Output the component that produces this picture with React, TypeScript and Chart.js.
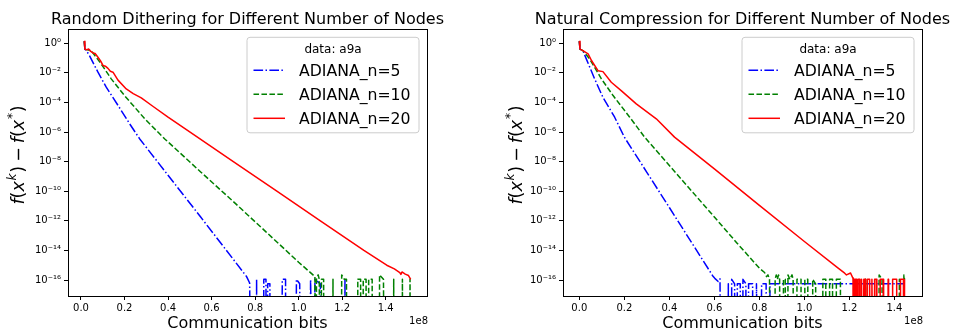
import React, { useEffect, useRef } from 'react';
import { Chart, registerables } from 'chart.js';

Chart.register(...registerables);

// ---------------- data (x in units of 1e8 bits) ----------------
// Random Dithering
const rdX5 = [0.015, 0.018, 0.035, 0.078, 0.116, 0.17, 0.224, 0.27, 0.40, 0.55, 0.70, 0.761, 0.775,
  0.785, 0.805, 0.807, 0.809, 0.838, 0.840, 0.850, 0.852, 0.858, 0.868, 0.870, 0.920, 0.925, 0.940, 0.942,
  0.985, 0.990, 1.005, 1.010, 1.050, 1.055, 1.070, 1.075, 1.100, 1.102, 1.210, 1.213, 1.216];
const rdY5 = [1.38, 0.40, 0.19, 1.1e-2, 1.07e-3, 6.3e-5, 3.5e-6, 3.4e-7, 1.2e-9, 1.8e-12, 2.5e-15, 1.7e-16, 6.3e-17,
  0, 0, 1.11e-16, 0, 0, 1.11e-16, 1.11e-16, 0, 5.55e-17, 5.55e-17, 0, 0, 1.11e-16, 1.11e-16, 0,
  0, 1.11e-16, 5.55e-17, 0, 0, 1.11e-16, 0, 1.11e-16, 5.55e-17, 0, 0, 1.11e-16, 0];

const rdX10 = [0.015, 0.018, 0.03, 0.047, 0.07, 0.093, 0.139, 0.2, 0.293, 0.385, 0.55, 0.70, 0.85, 1.0, 1.075,
  1.080, 1.082, 1.090, 1.095, 1.100, 1.105, 1.115, 1.117, 1.155, 1.158, 1.160, 1.195, 1.198, 1.210, 1.220, 1.222,
  1.270, 1.272, 1.285, 1.287, 1.295, 1.297, 1.310, 1.312, 1.320, 1.322, 1.338, 1.340, 1.370, 1.372, 1.390, 1.395,
  1.435, 1.437, 1.440, 1.475, 1.477, 1.480, 1.510, 1.512, 1.515];
const rdY10 = [1.38, 0.40, 0.355, 0.316, 0.112, 0.04, 3.9e-3, 2.9e-4, 7.8e-6, 3.4e-7, 2.0e-9, 2.0e-11, 1.8e-13, 1.6e-15, 1.7e-16,
  0, 1.11e-16, 2.22e-16, 1.11e-16, 0, 1.11e-16, 1.11e-16, 0, 0, 1.11e-16, 0, 0, 2.22e-16, 1.11e-16, 1.11e-16, 0,
  0, 1.11e-16, 1.11e-16, 0, 0, 1.11e-16, 1.11e-16, 0, 0, 1.11e-16, 1.11e-16, 0, 0, 2.22e-16, 1.11e-16, 0,
  0, 1.11e-16, 0, 0, 1.11e-16, 0, 0, 1.11e-16, 0];

const rdX20 = [0.015, 0.018, 0.025, 0.035, 0.045, 0.055, 0.065, 0.078, 0.09, 0.101, 0.112, 0.124, 0.135, 0.147,
  0.17, 0.208, 0.24, 0.277, 0.33, 0.40, 0.53, 0.70, 0.90, 1.10, 1.30, 1.405, 1.44, 1.465, 1.47, 1.475, 1.49, 1.505, 1.515];
const rdY20 = [1.38, 0.40, 0.355, 0.41, 0.28, 0.22, 0.20, 0.112, 0.063, 0.0316, 0.028, 0.02, 0.0126, 0.011,
  3.2e-3, 8.1e-4, 3.9e-4, 2.0e-4, 5.5e-5, 1.0e-5, 5.0e-7, 1.0e-8, 1.0e-10, 1.0e-12, 1.0e-14, 1.0e-15, 5.6e-16, 3.2e-16, 2.4e-16, 3.5e-16, 2.5e-16, 2.0e-16, 1.1e-16];

// Natural Compression
const ncX5 = [0.0, 0.003, 0.016, 0.031, 0.068, 0.105, 0.157, 0.2, 0.3, 0.4, 0.5, 0.595, 0.602, 0.617, 0.625, 0.632,
  0.660, 0.662, 0.665, 0.675, 0.677, 0.690, 0.692, 0.700, 0.702, 0.715, 0.717, 0.725, 0.727, 0.740, 0.742,
  0.750, 0.752, 0.770, 0.772, 0.785, 0.787, 0.800, 0.810, 0.830, 0.832, 0.845, 0.847, 0.860, 1.445];
const ncY5 = [1.38, 0.40, 0.316, 8.7e-2, 3.9e-3, 2.2e-4, 1.0e-5, 4.5e-7, 1.9e-9, 7.9e-12, 3.2e-14, 1.7e-16, 1.3e-16, 8.0e-17, 1.2e-16, 0,
  0, 5.55e-17, 0, 0, 1.11e-16, 5.55e-17, 0, 0, 5.55e-17, 5.55e-17, 0, 0, 1.11e-16, 5.55e-17, 0,
  0, 5.55e-17, 5.55e-17, 0, 0, 5.55e-17, 0, 5.55e-17, 5.55e-17, 0, 0, 5.55e-17, 5.55e-17, 5.55e-17];

const ncX10 = [0.0, 0.003, 0.016, 0.046, 0.098, 0.15, 0.224, 0.29, 0.4, 0.5, 0.6, 0.7, 0.8, 0.823, 0.832, 0.838, 0.845,
  0.850, 0.868, 0.870, 0.875, 0.880, 0.885, 0.890, 0.892, 0.905, 0.907, 0.915, 0.917, 0.925, 0.927, 0.935, 0.945, 0.950, 0.952,
  0.965, 0.967, 0.985, 0.987, 1.000, 1.002, 1.015, 1.017, 1.035, 1.037, 1.050, 1.052, 1.080, 1.082, 1.095, 1.097,
  1.110, 1.112, 1.125, 1.127, 1.140, 1.142, 1.160, 1.162, 1.270, 1.272, 1.280, 1.330, 1.332, 1.345, 1.347,
  1.420, 1.422, 1.425, 1.440, 1.442, 1.445];
const ncY10 = [1.38, 0.40, 0.316, 8.7e-2, 3.9e-3, 2.9e-4, 1.0e-5, 4.5e-7, 5.5e-9, 1.0e-10, 1.8e-12, 3.2e-14, 6.3e-16, 3.2e-16, 1.7e-16, 2.22e-16, 1.11e-16,
  0, 0, 1.11e-16, 2.22e-16, 1.11e-16, 2.22e-16, 1.11e-16, 0, 0, 1.11e-16, 1.11e-16, 0, 0, 2.22e-16, 1.11e-16, 2.22e-16, 1.11e-16, 0,
  0, 1.11e-16, 1.11e-16, 0, 0, 1.11e-16, 1.11e-16, 0, 0, 1.11e-16, 5.55e-17, 0, 0, 1.11e-16, 1.11e-16, 0,
  0, 1.11e-16, 1.11e-16, 0, 0, 1.11e-16, 1.11e-16, 0, 0, 1.11e-16, 0, 0, 2.22e-16, 1.11e-16, 0,
  0, 1.11e-16, 0, 0, 2.22e-16, 1.11e-16];

const ncX20 = [0.0, 0.003, 0.016, 0.039, 0.054, 0.083, 0.105, 0.142, 0.186, 0.253, 0.342, 0.423, 0.6, 0.8, 1.0, 1.15, 1.179, 1.187, 1.205, 1.216,
  1.218, 1.222, 1.224, 1.230, 1.232, 1.236, 1.238, 1.245, 1.247, 1.252, 1.254, 1.260, 1.264, 1.270, 1.272,
  1.278, 1.280, 1.290, 1.292, 1.298, 1.300, 1.308, 1.312, 1.320, 1.322, 1.335, 1.337, 1.350, 1.352,
  1.370, 1.372, 1.374, 1.390, 1.392, 1.410, 1.412, 1.425, 1.427, 1.440, 1.442, 1.445];
const ncY20 = [1.38, 0.40, 0.316, 0.19, 6.8e-2, 1.4e-2, 1.2e-2, 2.3e-3, 6.3e-4, 7.9e-5, 7.8e-6, 4.5e-7, 3.2e-9, 1.1e-11, 4.0e-14, 6.3e-16, 2.9e-16, 2.2e-16, 3.0e-16, 1.3e-16,
  0, 0, 1.11e-16, 1.11e-16, 0, 0, 1.11e-16, 1.11e-16, 0, 0, 1.11e-16, 0, 1.11e-16, 1.11e-16, 0,
  0, 1.11e-16, 1.11e-16, 0, 0, 1.11e-16, 0, 1.11e-16, 1.11e-16, 0, 0, 1.11e-16, 1.11e-16, 0,
  0, 1.11e-16, 0, 0, 1.11e-16, 1.11e-16, 0, 0, 1.11e-16, 1.11e-16, 0, 1.11e-16];

// ---------------- labels / ticks ----------------
const X_TICKS = [0, 0.2, 0.4, 0.6, 0.8, 1.0, 1.2, 1.4];
const Y_TICK_EXPONENTS = [0, -2, -4, -6, -8, -10, -12, -14, -16];
const SERIES_LABELS = ['ADIANA_n=5', 'ADIANA_n=10', 'ADIANA_n=20'];
const TITLES = ['Random Dithering for Different Number of Nodes', 'Natural Compression for Different Number of Nodes'];
const X_LABEL = 'Communication bits';
const X_OFFSET_LABEL = '1e8';
const LEGEND_TITLE = 'data: a9a';

// ---------------- styles ----------------
const SERIES_COLORS = ['#0000ff', '#008000', '#ff0000'];
const SERIES_DASHES = [[9.6, 2.4, 1.5, 2.4], [5.55, 2.4], []];
const FONT = '"DejaVu Sans", sans-serif';
const LOG_FLOOR = 1e-30; // non-positive values are clipped below the axes (like matplotlib)
const Y_MIN = Math.pow(10, -17.08);
const Y_MAX = Math.pow(10, 0.96);
const H = 335;

const SUP: Record<string, string> = {
  '0': '\u2070', '1': '\u00b9', '2': '\u00b2', '3': '\u00b3', '4': '\u2074', '5': '\u2075',
  '6': '\u2076', '7': '\u2077', '8': '\u2078', '9': '\u2079', '-': '\u207b',
};
const supText = (n: number) => String(n).split('').map((c) => SUP[c]).join('');

type Panel = {
  title: string;
  xs: number[][];
  ys: number[][];
  xMin: number;
  xMax: number;
  yAxisWidth: number;
  padRight: number;
  canvasLeft: number;
  canvasWidth: number;
  yLabelGap: number;
};

const PANELS: Panel[] = [
  { title: TITLES[0], xs: [rdX5, rdX10, rdX20], ys: [rdY5, rdY10, rdY20], xMin: -0.0597, xMax: 1.59,
    yAxisWidth: 68, padRight: 50, canvasLeft: 0, canvasWidth: 477, yLabelGap: 44 },
  { title: TITLES[1], xs: [ncX5, ncX10, ncX20], ys: [ncY5, ncY10, ncY20], xMin: -0.0725, xMax: 1.5225,
    yAxisWidth: 86, padRight: 33, canvasLeft: 477, canvasWidth: 478, yLabelGap: 41 },
];

function drawYLabel(ctx: CanvasRenderingContext2D, x: number, y: number) {
  const base = 17.5;
  const sup = 12.2;
  const runs = [
    { t: 'f', it: true }, { t: '(' }, { t: 'x', it: true }, { t: 'k', it: true, sup: true }, { t: ')' },
    { t: '\u2212', op: true },
    { t: 'f', it: true }, { t: '(' }, { t: 'x', it: true }, { t: '*', sup: true }, { t: ')' },
  ] as { t: string; it?: boolean; sup?: boolean; op?: boolean }[];
  const fontOf = (r: any) => `${r.it ? 'italic ' : ''}${r.sup ? sup : base}px ${FONT}`;
  let total = 0;
  const widths = runs.map((r) => {
    ctx.font = fontOf(r);
    const w = ctx.measureText(r.t).width + (r.op ? 8 : 0) + (r.sup ? 1.5 : 0);
    total += w;
    return w;
  });
  ctx.save();
  ctx.translate(x, y);
  ctx.rotate(-Math.PI / 2);
  ctx.textAlign = 'left';
  ctx.textBaseline = 'alphabetic';
  ctx.fillStyle = '#000';
  let cx = -total / 2;
  runs.forEach((r, i) => {
    ctx.font = fontOf(r);
    ctx.fillText(r.t, cx + (r.op ? 4 : 0) + (r.sup ? 0.8 : 0), r.sup ? -base * 0.45 : 0);
    cx += widths[i];
  });
  ctx.restore();
}

function drawLegend(ctx: CanvasRenderingContext2D, a: any) {
  const bw = 172;
  const bh = 95.5;
  const bx = a.right - 8 - bw;
  const by = a.top + 8.3;
  const r = 3;
  ctx.save();
  ctx.beginPath();
  ctx.moveTo(bx + r, by);
  ctx.lineTo(bx + bw - r, by);
  ctx.arcTo(bx + bw, by, bx + bw, by + r, r);
  ctx.lineTo(bx + bw, by + bh - r);
  ctx.arcTo(bx + bw, by + bh, bx + bw - r, by + bh, r);
  ctx.lineTo(bx + r, by + bh);
  ctx.arcTo(bx, by + bh, bx, by + bh - r, r);
  ctx.lineTo(bx, by + r);
  ctx.arcTo(bx, by, bx + r, by, r);
  ctx.closePath();
  ctx.fillStyle = 'rgba(255,255,255,0.8)';
  ctx.fill();
  ctx.strokeStyle = '#cccccc';
  ctx.lineWidth = 1;
  ctx.stroke();

  ctx.fillStyle = '#000';
  ctx.font = `12px ${FONT}`;
  ctx.textAlign = 'center';
  ctx.textBaseline = 'alphabetic';
  ctx.fillText(LEGEND_TITLE, bx + bw / 2, by + 15.6);

  SERIES_LABELS.forEach((label, i) => {
    const ly = by + 33 + i * 24;
    ctx.beginPath();
    ctx.setLineDash(SERIES_DASHES[i]);
    ctx.strokeStyle = SERIES_COLORS[i];
    ctx.lineWidth = 1.5;
    ctx.moveTo(bx + 6.5, ly);
    ctx.lineTo(bx + 38, ly);
    ctx.stroke();
    ctx.setLineDash([]);
    ctx.fillStyle = '#000';
    ctx.font = `15.7px ${FONT}`;
    ctx.textAlign = 'left';
    ctx.fillText(label, bx + 52, ly + 5.5);
  });
  ctx.restore();
}

function buildConfig(panel: Panel): any {
  const textPlugin = {
    id: 'panelText',
    afterDraw(chart: any) {
      const ctx: CanvasRenderingContext2D = chart.ctx;
      const a = chart.chartArea;
      ctx.save();
      ctx.strokeStyle = '#000';
      ctx.lineWidth = 1;
      ctx.setLineDash([]);
      ctx.strokeRect(a.left + 0.5, a.top + 0.5, a.right - a.left, a.bottom - a.top);

      const cxm = (a.left + a.right) / 2;
      ctx.fillStyle = '#000';
      ctx.textAlign = 'center';
      ctx.textBaseline = 'alphabetic';
      ctx.font = `16px ${FONT}`;
      ctx.fillText(panel.title, cxm, 23.5);
      ctx.font = `16px ${FONT}`;
      ctx.fillText(X_LABEL, cxm, 328);
      ctx.font = `10px ${FONT}`;
      ctx.textAlign = 'right';
      ctx.fillText(X_OFFSET_LABEL, a.right + 1, 324);
      ctx.restore();

      drawYLabel(ctx, a.left - panel.yLabelGap, 155);
      drawLegend(ctx, a);
    },
  };

  const datasets = panel.xs.map((xs, s) => ({
    label: SERIES_LABELS[s],
    data: xs.map((x, i) => ({ x, y: panel.ys[s][i] > 0 ? panel.ys[s][i] : LOG_FLOOR })),
    borderColor: SERIES_COLORS[s],
    backgroundColor: SERIES_COLORS[s],
    borderWidth: 1.5,
    borderDash: SERIES_DASHES[s],
    borderJoinStyle: 'round',
    pointRadius: 0,
    pointHitRadius: 0,
    tension: 0,
    fill: false,
    order: 3 - s,
  }));

  const tickFont = { family: FONT, size: 10 };
  const grid = { drawOnChartArea: false, drawTicks: true, tickLength: 4, color: '#000', lineWidth: 1 };

  return {
    type: 'line',
    data: { datasets },
    options: {
      animation: false,
      responsive: false,
      maintainAspectRatio: false,
      events: [],
      layout: { padding: { left: 0, right: panel.padRight, top: 29, bottom: 0 } },
      plugins: { legend: { display: false }, tooltip: { enabled: false }, title: { display: false } },
      scales: {
        x: {
          type: 'linear',
          min: panel.xMin,
          max: panel.xMax,
          afterBuildTicks: (ax: any) => { ax.ticks = X_TICKS.map((v) => ({ value: v })); },
          afterFit: (s: any) => { s.height = 39; },
          ticks: {
            callback: (v: any) => Number(v).toFixed(1),
            font: tickFont, color: '#000', padding: 2, maxRotation: 0, minRotation: 0, autoSkip: false,
          },
          grid,
          border: { display: false },
        },
        y: {
          type: 'logarithmic',
          min: Y_MIN,
          max: Y_MAX,
          afterBuildTicks: (ax: any) => { ax.ticks = Y_TICK_EXPONENTS.map((e) => ({ value: Math.pow(10, e) })); },
          afterFit: (s: any) => { s.width = panel.yAxisWidth; },
          ticks: {
            callback: (_v: any, i: number) => '10' + supText(Y_TICK_EXPONENTS[i]),
            font: tickFont, color: '#000', padding: 3, autoSkip: false,
          },
          grid,
          border: { display: false },
        },
      },
    },
    plugins: [textPlugin],
  };
}

function ChartPanel({ panel }: { panel: Panel }) {
  const ref = useRef<HTMLCanvasElement>(null);
  useEffect(() => {
    const chart = new Chart(ref.current as HTMLCanvasElement, buildConfig(panel));
    return () => chart.destroy();
  }, [panel]);
  return (
    <canvas
      ref={ref}
      width={panel.canvasWidth}
      height={H}
      style={{ position: 'absolute', left: panel.canvasLeft, top: 0, width: panel.canvasWidth, height: H, display: 'block' }}
    />
  );
}

export default function App() {
  return (
    <div style={{ position: 'absolute', left: 0, top: 0, width: 955, height: H, background: '#fff', overflow: 'hidden' }}>
      {PANELS.map((p) => <ChartPanel key={p.title} panel={p} />)}
    </div>
  );
}
